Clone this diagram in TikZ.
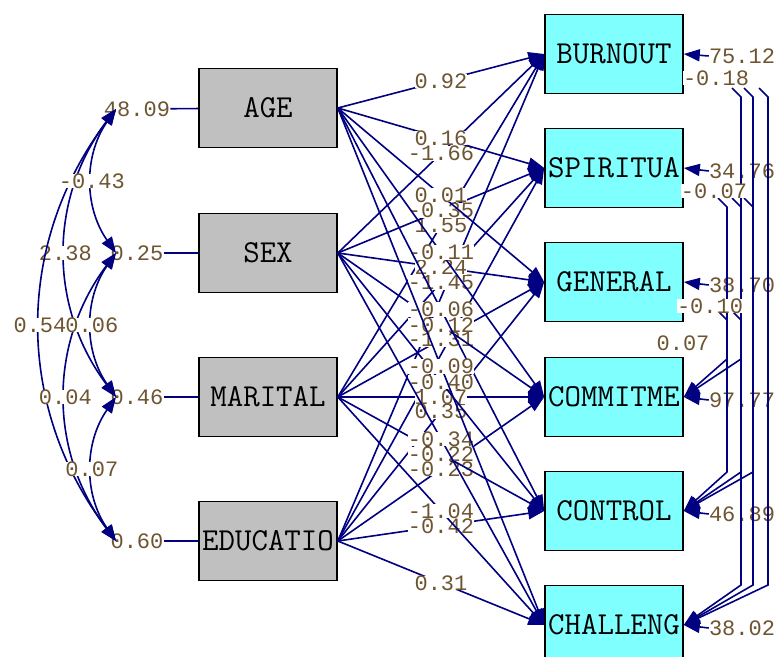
\documentclass[tikz,border=0pt]{standalone}
\usepackage{fontspec}
\newfontfamily\numfont{Liberation Mono}
\usetikzlibrary{arrows.meta}
\definecolor{pathblue}{RGB}{0,0,128}
\definecolor{numbrown}{RGB}{110,85,50}
\definecolor{boxgrey}{RGB}{192,192,192}
\definecolor{boxcyan}{RGB}{128,255,255}
\begin{document}
\begin{tikzpicture}[x=0.75pt, y=-0.75pt, >={Triangle[length=12pt,width=9pt]},
  obs/.style={draw=black, line width=1.2pt, minimum width=103.5pt, minimum height=59.25pt, inner sep=0pt, font=\ttfamily\fontsize{24}{24}\selectfont},
  xvar/.style={obs, fill=boxgrey},
  yvar/.style={obs, fill=boxcyan},
  est/.style={text=numbrown, inner sep=0pt, font=\numfont\fontsize{16.5}{16.5}\selectfont},
  estw/.style={est, fill=white},
  link/.style={draw=pathblue, line width=1.2pt}]
\useasboundingbox (0,0) rectangle (779,657);
\fill[white] (0,0) rectangle (779,657);
\clip (0,0) rectangle (779,657);
% observed variables
\node[xvar] (age) at (268,108) {AGE};
\node[xvar] (sex) at (268,253) {SEX};
\node[xvar] (marital) at (268,397) {MARITAL};
\node[xvar] (educ) at (268,541) {EDUCATIO};
\node[yvar] (burnout) at (614,54) {BURNOUT};
\node[yvar] (spiritua) at (614,168) {SPIRITUA};
\node[yvar] (general) at (614,282) {GENERAL};
\node[yvar] (commitme) at (614,397) {COMMITME};
\node[yvar] (control) at (614,511) {CONTROL};
\node[yvar] (challeng) at (614,625) {CHALLENG};
% gamma paths
\draw[link,->] (educ.east) -- (burnout.west);
\draw[link,->] (educ.east) -- (spiritua.west);
\foreach \src/\tgt/\val in {educ/general/0.35, educ/commitme/-0.23, educ/control/-0.42, educ/challeng/0.31,
  marital/burnout/1.55, marital/spiritua/-1.45, marital/general/-1.31, marital/commitme/1.07, marital/control/-0.22, marital/challeng/-1.04,
  sex/burnout/-1.66, sex/spiritua/-0.35, sex/general/2.24, sex/commitme/-0.12, sex/control/-0.40, sex/challeng/-0.34,
  age/burnout/0.92, age/spiritua/0.16, age/general/0.01, age/commitme/-0.11, age/control/-0.06, age/challeng/-0.09}
  \draw[link,->] (\src.east) -- (\tgt.west) node[estw, midway] {\val};
% variances and covariances of the x-variables
\node[est] (vage) at (137,109) {48.09};
\node[est] (vsex) at (137,253) {0.25};
\node[est] (vmarital) at (137,397) {0.46};
\node[est] (veduc) at (137,541) {0.60};
\foreach \v in {age,sex,marital,educ}
  \draw[link] (v\v) -- (\v);
\coordinate (cage) at (116,109);
\coordinate (csex) at (116,253);
\coordinate (cmarital) at (116,397);
\coordinate (ceduc) at (116,541);
\draw[link,<->] (cage) to[bend right=37] node[estw] {2.38} (cmarital);
\draw[link,<->] (cage) to[bend right=37] node[estw] {0.54} (ceduc);
\draw[link,<->] (csex) to[bend right=37] node[estw] {0.04} (ceduc);
\draw[link,<->] (cage) to[bend right=35] node[estw] {-0.43} (csex);
\draw[link,<->] (csex) to[bend right=35] node[estw] {0.06} (cmarital);
\draw[link,<->] (cmarital) to[bend right=35] node[estw] {0.07} (ceduc);
% error variances
\node[est] (eburnout) at (742,56) {75.12};
\node[est] (espiritua) at (742,171) {34.76};
\node[est] (egeneral) at (742,285) {38.70};
\node[est] (ecommitme) at (742,400) {97.77};
\node[est] (econtrol) at (742,514) {46.89};
\node[est] (echalleng) at (742,628) {38.02};
\foreach \v in {burnout,spiritua,general,commitme,control,challeng}
  \draw[link,->] (e\v.west) -- (\v.east);
% error covariances
\foreach \col/\ys/\ye/\tgt in {741/97/359/commitme, 753/97/472/control, 768/97/585/challeng,
  727/207/359/commitme, 741/207/472/control, 753/207/585/challeng,
  727/320/472/control, 741/320/585/challeng}
  \draw[link,->] (\col-9,\ys-9) -- (\col,\ys) -- (\col,\ye) -- (\tgt.east);
\node[estw] (pburnout) at (716,78) {-0.18};
\node[estw] (pspiritua) at (714,191) {-0.07};
\node[estw] (pgeneral) at (710,306) {-0.10};
\node[estw] (pcommitme) at (683,343) {0.07};
\end{tikzpicture}
\end{document}
